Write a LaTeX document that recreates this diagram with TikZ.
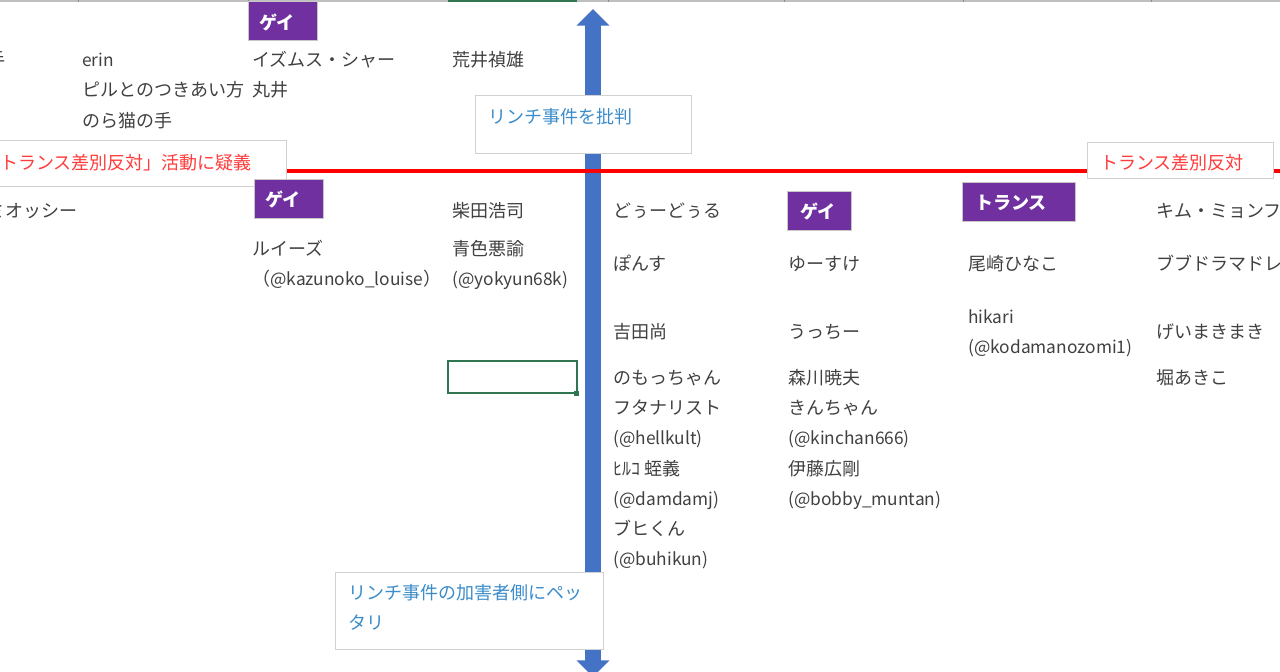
\documentclass[tikz,border=0pt]{standalone}
\usepackage{fontspec}
\setmainfont{Noto Sans CJK JP}
\usetikzlibrary{arrows.meta}
\definecolor{gaypurple}{HTML}{7030A0}
\definecolor{axisblue}{HTML}{4472C4}
\definecolor{sheetgreen}{HTML}{2F7552}
\definecolor{celltext}{HTML}{404040}
\definecolor{notered}{HTML}{FF3B3B}
\definecolor{noteblue}{HTML}{3A8CCB}
\newcommand{\latin}[1]{{\fontsize{13}{16}\selectfont #1}}
\tikzset{
  cell/.style={anchor=base west, inner sep=0pt, text=celltext, font=\fontsize{13.5}{16}\selectfont},
  rednote/.style={cell, text=notered},
  bluenote/.style={cell, text=noteblue},
  notebox/.style={draw=black!18, line width=.7pt, fill=white, inner sep=0pt},
  tagbox/.style={draw=black!22, line width=.6pt, fill=gaypurple, inner sep=0pt},
  tagtext/.style={cell, text=white, font=\fontsize{13.5}{16}\selectfont\bfseries},
}
\begin{document}
\begin{tikzpicture}[x=.75pt,y=-.75pt]
  \useasboundingbox (0,0) rectangle (1280,671);
  \clip (0,0) rectangle (1280,671);
  % sheet header
  \fill[black!25] (0,0) rectangle (1280,1.5);
  \foreach \i in {78,248,608,784,963,1151}{
    \draw[black!45] (\i,0) -- (\i,2);
  }
  \fill[sheetgreen] (448,0) rectangle (577,1.5);
  % axes
  \coordinate (axistop) at (593,9);
  \coordinate (axisbottom) at (593,677);
  \coordinate (ruleleft) at (280,171);
  \coordinate (ruleright) at (1284,171);
  \draw[axisblue, line width=12pt, {Triangle[length=12.5pt,width=24pt]}-{Triangle[length=12.5pt,width=24pt]}] (axistop) -- (axisbottom);
  \draw[red, line width=3.2pt] (ruleleft) -- (ruleright);
  % selected cell
  \draw[sheetgreen, line width=1.3pt] (448,361) rectangle (577,393);
  \fill[sheetgreen] (574,391) rectangle (579,396);
  % note boxes
  \node[notebox, minimum width=222pt, minimum height=34.5pt] (doubtbox) at (138,163) {};
  \node[notebox, minimum width=162pt, minimum height=43.5pt] (critbox) at (583,124) {};
  \node[notebox, minimum width=201pt, minimum height=57.75pt] (sidebox) at (469,610.5) {};
  \node[notebox, minimum width=140pt, minimum height=27pt] (opposebox) at (1180.5,160) {};
  \foreach \x/\y/\t [count=\i] in {-18/163/「トランス差別反対」活動に疑義,1100/163/トランス差別反対}{
    \node[rednote] (red\i) at (\x,\y+6) {\t};
  }
  \foreach \x/\y/\t [count=\i] in {488/117/リンチ事件を批判,348/593/リンチ事件の加害者側にペッ,348/623/タリ}{
    \node[bluenote] (blue\i) at (\x,\y+6) {\t};
  }
  % purple tags
  \foreach \x/\y/\w/\tx/\ty/\t [count=\i] in {282.5/21/51.75/259/29/ゲイ,288.5/198.5/51.75/265/206.5/ゲイ,819/210.5/48/800/218.5/ゲイ,1018.5/201.5/84.75/975/209.5/トランス}{
    \node[tagbox, minimum width=\w pt, minimum height=29.25pt] (tag\i) at (\x,\y) {};
    \node[tagtext] (tagname\i) at (\tx,\ty) {\t};
  }
  % names
  \foreach \x/\y/\t [count=\i] in {
    -13/60/手,-13/211/ミオッシー,
    82/60/\latin{erin},82/90/ピルとのつきあい方,82/121/のら猫の手,
    252/60/イズムス・シャー,252/90/丸井,252/249/ルイーズ,252/279/（\latin{@kazunoko\_louise}）,
    452/60/荒井禎雄,452/211/柴田浩司,452/249/青色悪諭,452/279/\latin{(@yokyun68k)},
    613/211/どぅーどぅる,613/264/ぽんす,613/332/吉田尚,613/378/のもっちゃん,613/408/フタナリスト,
    613/438/\latin{(@hellkult)},613/469/ﾋﾙｺ 蛭義,613/499/\latin{(@damdamj)},613/529/ブヒくん,613/559/\latin{(@buhikun)},
    788/264/ゆーすけ,788/332/うっちー,788/378/森川暁夫,788/408/きんちゃん,
    788/438/\latin{(@kinchan666)},788/469/伊藤広剛,788/499/\latin{(@bobby\_muntan)},
    968/264/尾崎ひなこ,968/317/\latin{hikari},968/347/\latin{(@kodamanozomi1)},
    1156/211/キム・ミョンフ,1156/264/ブブドラマドレ,1156/332/げいまきまき,1156/378/堀あきこ}{
    \node[cell] (name\i) at (\x,\y+6) {\t};
  }
\end{tikzpicture}
\end{document}
